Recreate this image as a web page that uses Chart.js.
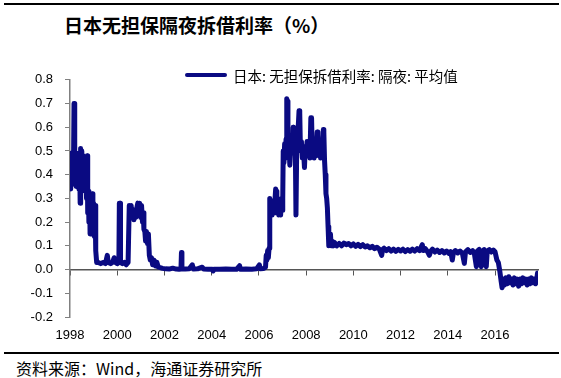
<!DOCTYPE html>
<html>
<head>
<meta charset="utf-8">
<script src="https://cdn.jsdelivr.net/npm/chart.js@4.4.1/dist/chart.umd.min.js"></script>
<style>
    html, body { margin: 0; padding: 0; background: #fff; }
    body { width: 561px; height: 378px; position: relative; overflow: hidden; font-family: "Noto Sans CJK SC", sans-serif; color: #000; }
    .rule { position: absolute; left: 4px; width: 555px; height: 2px; background: #000; }
    #rule-top    { top: 3px; }
    #rule-bottom { top: 352px; }
    #title  { position: absolute; left: 64px; top: 13px; font-size: 19px; font-weight: 700; line-height: 24px; white-space: nowrap; }
    #chart-box { position: absolute; left: 0; top: 60px; width: 561px; height: 290px; }
    #legend { position: absolute; left: 185px; top: 66px; height: 18px; display: flex; align-items: center; font-size: 14.5px; white-space: nowrap; }
    #legend .swatch { width: 42px; height: 4px; background: #0a0a82; margin-right: 6px; border-radius: 2px; }
    #source { position: absolute; left: 16px; top: 359px; font-size: 16px; line-height: 18px; white-space: nowrap; }
</style>
</head>
<body>
<div class="rule" id="rule-top"></div>
<div id="title">日本无担保隔夜拆借利率（%）</div>
<div id="chart-box"><canvas id="chart-rate" width="561" height="290"></canvas></div>
<div id="legend"><span class="swatch"></span><span id="legend-text"></span></div>
<div class="rule" id="rule-bottom"></div>
<div id="source">资料来源：Wind，海通证券研究所</div>

<script>
const seriesName = '日本: 无担保拆借利率: 隔夜: 平均值';
const lineColor  = '#0a0a82';

const obsDates = [
    1998.00, 1998.02, 1998.04, 1998.06, 1998.08, 1998.10, 1998.12, 1998.15, 1998.17, 1998.19,
    1998.21, 1998.23, 1998.26, 1998.29, 1998.32, 1998.35, 1998.38, 1998.41, 1998.43, 1998.45,
    1998.47, 1998.50, 1998.52, 1998.55, 1998.58, 1998.61, 1998.64, 1998.67, 1998.70, 1998.73,
    1998.75, 1998.78, 1998.80, 1998.83, 1998.85, 1998.88, 1998.91, 1998.94, 1998.97, 1999.00,
    1999.03, 1999.06, 1999.09, 1999.13, 1999.20, 1999.30, 1999.40, 1999.50, 1999.58, 1999.62,
    1999.72, 1999.80, 1999.87, 1999.92, 2000.00, 2000.07, 2000.09, 2000.12, 2000.14, 2000.22,
    2000.30, 2000.38, 2000.46, 2000.49, 2000.51, 2000.55, 2000.59, 2000.63, 2000.67, 2000.71,
    2000.75, 2000.79, 2000.83, 2000.87, 2000.91, 2000.95, 2000.99, 2001.03, 2001.07, 2001.10,
    2001.13, 2001.17, 2001.20, 2001.24, 2001.28, 2001.32, 2001.36, 2001.40, 2001.45, 2001.50,
    2001.56, 2001.62, 2001.68, 2001.74, 2001.82, 2001.92, 2002.05, 2002.20, 2002.35, 2002.50,
    2002.62, 2002.70, 2002.72, 2002.74, 2002.88, 2003.05, 2003.18, 2003.23, 2003.40, 2003.60,
    2003.66, 2003.85, 2004.02, 2004.06, 2004.10, 2004.35, 2004.60, 2004.85, 2005.05, 2005.18,
    2005.22, 2005.45, 2005.70, 2005.90, 2006.02, 2006.06, 2006.20, 2006.28, 2006.31, 2006.34,
    2006.37, 2006.40, 2006.43, 2006.46, 2006.49, 2006.52, 2006.56, 2006.60, 2006.64, 2006.68,
    2006.71, 2006.73, 2006.76, 2006.80, 2006.84, 2006.88, 2006.92, 2006.96, 2007.00, 2007.01,
    2007.03, 2007.06, 2007.09, 2007.12, 2007.15, 2007.18, 2007.20, 2007.23, 2007.27, 2007.31,
    2007.35, 2007.39, 2007.43, 2007.45, 2007.47, 2007.50, 2007.54, 2007.57, 2007.60, 2007.64,
    2007.70, 2007.73, 2007.76, 2007.80, 2007.84, 2007.88, 2007.93, 2007.96, 2008.00, 2008.04,
    2008.08, 2008.12, 2008.16, 2008.20, 2008.23, 2008.26, 2008.30, 2008.34, 2008.38, 2008.42,
    2008.47, 2008.50, 2008.53, 2008.57, 2008.61, 2008.65, 2008.69, 2008.73, 2008.75, 2008.78,
    2008.81, 2008.84, 2008.87, 2008.90, 2008.93, 2008.96, 2009.00, 2009.03, 2009.06, 2009.10,
    2009.15, 2009.20, 2009.30, 2009.40, 2009.50, 2009.60, 2009.70, 2009.80, 2009.90, 2010.00,
    2010.10, 2010.20, 2010.30, 2010.40, 2010.50, 2010.60, 2010.70, 2010.80, 2010.90, 2011.00,
    2011.10, 2011.20, 2011.24, 2011.30, 2011.40, 2011.50, 2011.60, 2011.70, 2011.80, 2011.90,
    2012.00, 2012.10, 2012.20, 2012.30, 2012.40, 2012.50, 2012.60, 2012.70, 2012.80, 2012.92,
    2012.96, 2013.05, 2013.15, 2013.22, 2013.28, 2013.35, 2013.45, 2013.55, 2013.65, 2013.75,
    2013.85, 2013.95, 2014.05, 2014.12, 2014.19, 2014.24, 2014.32, 2014.42, 2014.52, 2014.62,
    2014.70, 2014.75, 2014.85, 2014.95, 2015.05, 2015.12, 2015.21, 2015.25, 2015.33, 2015.42,
    2015.46, 2015.54, 2015.63, 2015.67, 2015.76, 2015.85, 2015.93, 2016.00, 2016.08, 2016.14,
    2016.20, 2016.26, 2016.30, 2016.34, 2016.40, 2016.46, 2016.52, 2016.58, 2016.64, 2016.70,
    2016.76, 2016.82, 2016.88, 2016.94, 2017.00, 2017.06, 2017.12, 2017.18, 2017.24, 2017.30,
    2017.36, 2017.42, 2017.48, 2017.54, 2017.60, 2017.66, 2017.72, 2017.76, 2017.80,
];
const obsRates = [
    0.40, 0.49, 0.34, 0.47, 0.37, 0.48, 0.36, 0.45, 0.70, 0.70,
    0.37, 0.47, 0.35, 0.49, 0.37, 0.46, 0.34, 0.44, 0.28, 0.51,
    0.40, 0.50, 0.38, 0.48, 0.35, 0.47, 0.33, 0.45, 0.30, 0.48,
    0.24, 0.33, 0.20, 0.32, 0.15, 0.30, 0.18, 0.32, 0.16, 0.28,
    0.14, 0.27, 0.08, 0.03, 0.03, 0.025, 0.03, 0.025, 0.06, 0.03,
    0.025, 0.03, 0.05, 0.03, 0.025, 0.03, 0.28, 0.28, 0.03, 0.025,
    0.03, 0.02, 0.03, 0.03, 0.27, 0.23, 0.27, 0.22, 0.25, 0.21,
    0.24, 0.22, 0.26, 0.28, 0.23, 0.28, 0.22, 0.27, 0.20, 0.24,
    0.17, 0.16, 0.12, 0.16, 0.11, 0.15, 0.06, 0.04, 0.05, 0.02,
    0.04, 0.015, 0.03, 0.01, 0.008, 0.005, 0.003, 0.002, 0.006, 0.002,
    0.001, 0.002, 0.072, 0.002, 0.002, 0.003, 0.02, 0.002, 0.003, 0.01,
    0.002, 0.001, 0.001, -0.006, 0.001, 0.001, 0.002, 0.001, 0.001, 0.016,
    0.001, 0.002, 0.001, 0.003, 0.02, 0.003, 0.004, 0.01, 0.06, 0.04,
    0.08, 0.05, 0.09, 0.30, 0.24, 0.29, 0.23, 0.28, 0.24, 0.29,
    0.34, 0.33, 0.24, 0.28, 0.23, 0.27, 0.23, 0.30, 0.25, 0.30,
    0.50, 0.45, 0.53, 0.47, 0.55, 0.72, 0.71, 0.47, 0.53, 0.44,
    0.52, 0.49, 0.53, 0.60, 0.59, 0.50, 0.54, 0.23, 0.50, 0.55,
    0.67, 0.66, 0.50, 0.54, 0.47, 0.52, 0.43, 0.51, 0.48, 0.54,
    0.49, 0.53, 0.47, 0.64, 0.64, 0.50, 0.54, 0.47, 0.52, 0.48,
    0.58, 0.57, 0.48, 0.53, 0.47, 0.52, 0.48, 0.59, 0.58, 0.46,
    0.40, 0.32, 0.30, 0.26, 0.18, 0.10, 0.12, 0.15, 0.10, 0.12,
    0.10, 0.115, 0.10, 0.11, 0.10, 0.112, 0.105, 0.11, 0.10, 0.108,
    0.098, 0.106, 0.097, 0.105, 0.095, 0.100, 0.092, 0.098, 0.088, 0.094,
    0.086, 0.06, 0.085, 0.09, 0.080, 0.088, 0.078, 0.086, 0.077, 0.085,
    0.078, 0.086, 0.076, 0.084, 0.077, 0.086, 0.078, 0.088, 0.080, 0.105,
    0.080, 0.088, 0.074, 0.06, 0.078, 0.086, 0.074, 0.082, 0.072, 0.080,
    0.070, 0.078, 0.068, 0.076, 0.04, 0.072, 0.080, 0.070, 0.078, 0.068,
    0.026, 0.075, 0.084, 0.072, 0.080, 0.070, 0.012, 0.078, 0.085, 0.012,
    0.076, 0.084, 0.012, 0.078, 0.084, 0.074, 0.082, 0.075, 0.04, 0.03,
    -0.005, -0.05, -0.077, -0.04, -0.065, -0.035, -0.06, -0.03, -0.055, -0.04,
    -0.065, -0.035, -0.06, -0.04, -0.07, -0.04, -0.06, -0.035, -0.055, -0.04,
    -0.065, -0.04, -0.06, -0.035, -0.055, -0.04, -0.06, -0.045, -0.015,
];

const yearTicks = [1998, 2000, 2002, 2004, 2006, 2008, 2010, 2012, 2014, 2016];
const yTicks    = [-0.2, -0.1, 0.0, 0.1, 0.2, 0.3, 0.4, 0.5, 0.6, 0.7, 0.8];
const xMin = 1998, xMax = 2017.82;

document.getElementById('legend-text').textContent = seriesName;

Chart.defaults.font.family = '"Liberation Sans", Arial, sans-serif';
Chart.defaults.color = '#000';

const points = obsDates.map((d, i) => ({ x: d, y: obsRates[i] }));
const setYears = s => { s.ticks = yearTicks.map(v => ({ value: v })); };

new Chart(document.getElementById('chart-rate'), {
    type: 'line',
    data: {
        datasets: [{
            label:           seriesName,
            data:            points,
            borderColor:     lineColor,
            backgroundColor: lineColor,
            borderWidth:     5,
            borderJoinStyle: 'round',
            borderCapStyle:  'round',
            pointRadius:     0,
            tension:         0,
        }],
    },
    options: {
        responsive: false,
        animation:  false,
        events:     [],
        layout: { padding: { left: 20, right: 23, top: 15, bottom: 8 } },
        plugins: { legend: { display: false }, tooltip: { enabled: false } },
        scales: {
            x: {
                type: 'linear', position: 'bottom', min: xMin, max: xMax,
                grid:   { display: false, drawTicks: false },
                border: { display: false },
                ticks:  { font: { size: 13 }, padding: 11, maxRotation: 0, autoSkip: false, callback: v => String(v) },
                afterBuildTicks: setYears,
                afterFit: s => { s.height = 25; },
            },
            xz: {
                axis: 'x', type: 'linear', position: { y: 0 }, min: xMin, max: xMax,
                grid:   { display: true, drawOnChartArea: false, drawTicks: true, tickLength: 5, color: '#555', lineWidth: 1 },
                border: { display: true, color: '#555', width: 1.5 },
                ticks:  { display: false },
                afterBuildTicks: setYears,
            },
            y: {
                type: 'linear', min: -0.2, max: 0.8,
                grid:   { display: true, drawOnChartArea: false, drawTicks: true, tickLength: 5, color: '#808080', lineWidth: 1 },
                border: { display: true, color: '#808080', width: 1.5 },
                ticks:  { font: { size: 13 }, padding: 12, callback: v => v.toFixed(1) },
                afterBuildTicks: s => { s.ticks = yTicks.map(v => ({ value: v })); },
                afterFit: s => { s.width = 50; },
            },
        },
    },
});
</script>
</body>
</html>
